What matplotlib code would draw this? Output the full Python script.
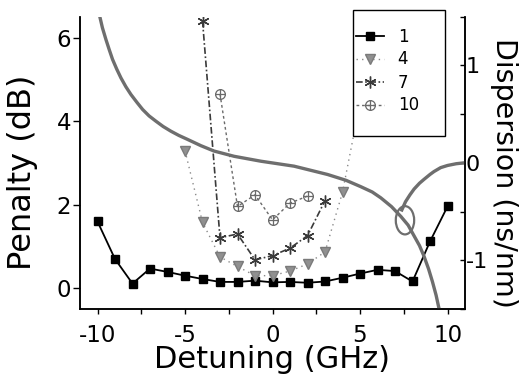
import numpy as np
import matplotlib
matplotlib.use("Agg")
import matplotlib.pyplot as plt
from matplotlib.path import Path
from matplotlib.patches import Ellipse, Rectangle
from matplotlib.ticker import MultipleLocator

plt.rcParams['font.family'] = ['DejaVu Sans']

# ---- data ----
x_1 = [-10, -9, -8, -7, -6, -5, -4, -3, -2, -1, 0, 1, 2, 3, 4, 5, 6, 7, 8, 9, 10]
pen_1 = [1.60, 0.70, 0.11, 0.47, 0.39, 0.30, 0.22, 0.15, 0.15, 0.18, 0.14, 0.15,
         0.13, 0.16, 0.25, 0.35, 0.44, 0.41, 0.16, 1.12, 1.96]
x_4 = [-5, -4, -3, -2, -1, 0, 1, 2, 3, 4, 5]
pen_4 = [3.30, 1.58, 0.75, 0.52, 0.30, 0.30, 0.41, 0.58, 0.87, 2.30, 4.45]
x_7 = [-4, -3, -2, -1, 0, 1, 2, 3]
pen_7 = [6.42, 1.21, 1.30, 0.68, 0.78, 0.96, 1.26, 2.10]
x_10 = [-3, -2, -1, 0, 1, 2]
pen_10 = [4.66, 1.96, 2.24, 1.64, 2.04, 2.21]
labels = ['1', '4', '7', '10']

disp_x = [-9.87, -9.72, -9.52, -9.33, -9.14, -8.9, -8.66, -8.38, -8.09, -7.75,
          -7.42, -7.05, -6.66, -6.25, -5.81, -5.35, -4.85, -4.09, -3.34, -2.19,
          -0.67, 1.23, 3.14, 4.2, 5.04, 5.7, 6.19, 6.8, 7.33, 7.75, 8.09, 8.4,
          8.66, 8.92, 9.14, 9.35, 9.52]
disp_y = [1.50, 1.385, 1.265, 1.16, 1.06, 0.96, 0.87, 0.78, 0.70, 0.62,
          0.546, 0.48, 0.426, 0.372, 0.324, 0.28, 0.239, 0.175, 0.12, 0.066,
          0.016, -0.035, -0.12, -0.18, -0.245, -0.30, -0.36, -0.45, -0.55, -0.64,
          -0.75, -0.85, -0.96, -1.09, -1.22, -1.36, -1.5]
disp2_x = [7.35, 7.6, 7.85, 8.09, 8.4, 8.66, 9.0, 9.23, 9.61, 10.0, 10.5, 11.0]
disp2_y = [-0.50, -0.40, -0.33, -0.27, -0.21, -0.17, -0.12, -0.09, -0.05, -0.028,
           -0.01, 0.0]

# ellipse annotation (x-center, y-center in dispersion units, width, height)
ell_c = (7.57, -0.59)
ell_w, ell_h = 1.05, 0.29

W, H = 521, 374
fig = plt.figure(figsize=(W / 100, H / 100), dpi=100)
ax = fig.add_axes([80 / W, 1 - 309 / H, 385 / W, 292.5 / H])
ax2 = ax.twinx()

# oplus marker
circ = Path.unit_circle()
verts = list(circ.vertices) + [(-1, 0), (1, 0), (0, -1), (0, 1)]
codes = list(circ.codes) + [Path.MOVETO, Path.LINETO, Path.MOVETO, Path.LINETO]
oplus = Path(verts, codes)

h1, = ax.plot(x_1, pen_1, '-', color='black', lw=1.3, marker='s', ms=5.8,
              mfc='black', mec='black', label=labels[0])
h4, = ax.plot(x_4, pen_4, color='#8a8a8a', lw=1.0, ls=(0, (1, 3)), marker='v',
              ms=6.8, mfc='#909090', mec='#7a7a7a', label=labels[1])
h7, = ax.plot(x_7, pen_7, color='#3a3a3a', lw=1.2, ls=(0, (4, 1.5, 1, 1.5)),
              marker=(6, 2, 0), ms=8.5, mec='#3a3a3a', mew=1.0, label=labels[2])
h10, = ax.plot(x_10, pen_10, color='#6a6a6a', lw=1.0, ls=(0, (2, 2)),
               marker=oplus, ms=7, mfc='none', mec='#6a6a6a', mew=0.9,
               label=labels[3])

ax2.plot(disp_x, disp_y, color='#6e6e6e', lw=2.4, solid_joinstyle='round',
         solid_capstyle='butt')
ax2.plot(disp2_x, disp2_y, color='#6e6e6e', lw=2.4, solid_joinstyle='round',
         solid_capstyle='butt')
ax2.add_patch(Ellipse(ell_c, ell_w, ell_h, fill=False, ec='#6e6e6e', lw=1.6))

ax.set_xlim(-11, 11)
ax.set_ylim(-0.5, 6.52)
ax2.set_ylim(-1.5, 1.5)

for a in (ax, ax2):
    a.spines['top'].set_visible(False)
    for s in a.spines.values():
        s.set_linewidth(1.1)

ax.xaxis.set_major_locator(MultipleLocator(5))
ax.xaxis.set_minor_locator(MultipleLocator(2.5))
ax.tick_params(axis='x', which='both', direction='out', length=3.5, width=1.0,
               labelsize=16.5, pad=7)
ax.tick_params(axis='y', which='major', direction='out', length=5, width=1.0,
               labelsize=16.5, pad=1.5)
ax.set_xticks([-10, -5, 0, 5, 10])
ax.set_xticklabels(['-10', '-5', '0', '5', '10'])
ax.set_yticks([0, 2, 4, 6])
ax.set_yticklabels(['0', '2', '4', '6'])

ax2.yaxis.set_minor_locator(MultipleLocator(0.5))
ax2.tick_params(axis='y', which='both', direction='in', length=3.5, width=1.0,
                labelsize=16, pad=0.5)
ax2.set_yticks([-1, 0, 1])
ax2.set_yticklabels(['-1', '0', '1'])

ax.set_xlabel('Detuning (GHz)', fontsize=22)
ax.xaxis.label.set_va('baseline')
ax.xaxis.set_label_coords(0.5, (309 - 368) / 292.5)

ax.set_ylabel('Penalty (dB)', fontsize=23)
ax.yaxis.label.set_va('center')
ax.yaxis.set_label_coords((22 - 80) / 385, (309 - 172.5) / 292.5)

ax2.set_ylabel('Dispersion (ns/nm)', fontsize=20.5, rotation=270)
ax2.yaxis.label.set_va('center')
ax2.yaxis.set_label_coords((504.5 - 80) / 385, (309 - 173) / 292.5)

# legend with a custom frame
fig.add_artist(Rectangle((353 / W, 1 - 136 / H), 92 / W, 126 / H,
                         transform=fig.transFigure, fc='white', ec='black',
                         lw=1.0, zorder=4))
leg = fig.legend(handles=[h1, h4, h7, h10], loc='upper left',
                 bbox_to_anchor=(356 / W, 1 - 27.5 / H), borderpad=0,
                 frameon=False, fontsize=12, handlelength=1.7,
                 handletextpad=0.8, labelspacing=0.3, borderaxespad=0)
leg.set_zorder(5)

fig.savefig('out.png', dpi=100)
